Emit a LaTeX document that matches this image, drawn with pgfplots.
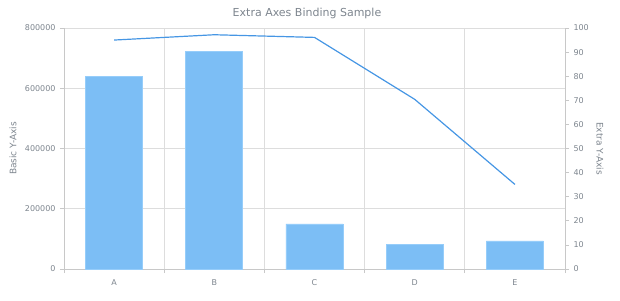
\documentclass[border=0pt]{standalone}
\usepackage{pgfplots}
\pgfplotsset{compat=1.18}
\usepackage{fontspec}
\setmainfont{DejaVu Sans}
\definecolor{barfill}{RGB}{124,190,245}
\definecolor{baredge}{RGB}{150,205,250}
\definecolor{linec}{RGB}{70,150,228}
\definecolor{txt}{RGB}{125,133,142}
\definecolor{gridc}{RGB}{221,221,221}
\definecolor{axc}{RGB}{200,200,200}
\begin{document}
\begin{tikzpicture}[x=1pt,y=1pt]
\path[use as bounding box] (0,0) rectangle (620,300);
\node[text=txt,font=\fontsize{11}{13}\selectfont] at (307,287) {Extra Axes Binding Sample};
\begin{axis}[
  at={(64pt,31pt)}, anchor=south west,
  width=501pt, height=241pt, scale only axis,
  xmin=-0.5, xmax=4.5, ymin=0, ymax=800000,
  axis x line*=bottom, axis y line*=left,
  axis line style={draw=axc, line width=0.8pt},
  xtick={0,1,2,3,4}, xticklabels={A,B,C,D,E},
  major x tick style={draw=none},
  minor xtick={-0.5,0.5,1.5,2.5,3.5,4.5},
  minor x tick style={draw=axc, line width=0.8pt},
  xminorgrids, minor grid style={draw=gridc, line width=0.8pt},
  ytick={0,200000,400000,600000,800000},
  ymajorgrids, major grid style={draw=gridc, line width=0.8pt},
  ytick style={draw=axc, line width=0.8pt},
  tick align=outside, major tick length=4pt, minor tick length=4pt,
  scaled y ticks=false,
  yticklabel={\pgfmathprintnumber[fixed,precision=0,1000 sep={},assume math mode=true]{\tick}},
  ticklabel style={text=txt, font=\fontsize{8}{10}\selectfont},
  yticklabel style={xshift=-1pt},
  xticklabel style={yshift=-3pt},
  ylabel={Basic Y-Axis},
  every axis y label/.style={at={(axis description cs:-0.1018,0.5)}, rotate=90, anchor=center, text=txt, font=\fontsize{9}{11}\selectfont},
  clip=false,
]
\addplot[ybar, bar width=0.57, fill=barfill, draw=baredge, line width=0.8pt] coordinates {
  (0,638000) (1,722000) (2,149500) (3,81500) (4,93000)
};
\end{axis}
\begin{axis}[
  at={(64pt,31pt)}, anchor=south west,
  width=501pt, height=241pt, scale only axis,
  xmin=-0.5, xmax=4.5, ymin=0, ymax=100,
  axis x line=none, axis y line*=right,
  axis line style={draw=axc, line width=0.8pt},
  ytick={0,10,...,100},
  ytick style={draw=axc, line width=0.8pt},
  tick align=outside, major tick length=4pt,
  yticklabel={\pgfmathprintnumber[fixed,precision=0,assume math mode=true]{\tick}},
  ticklabel style={text=txt, font=\fontsize{8}{10}\selectfont},
  yticklabel style={xshift=1pt},
  ylabel={Extra Y-Axis},
  every axis y label/.style={at={(axis description cs:1.0699,0.5)}, rotate=-90, anchor=center, text=txt, font=\fontsize{9}{11}\selectfont},
  clip=false,
]
\addplot[color=linec, line width=1.2pt, mark=none] coordinates {
  (0,95.0) (1,97.2) (2,96.1) (3,70.4) (4,35.1)
};
\end{axis}
\end{tikzpicture}
\end{document}
